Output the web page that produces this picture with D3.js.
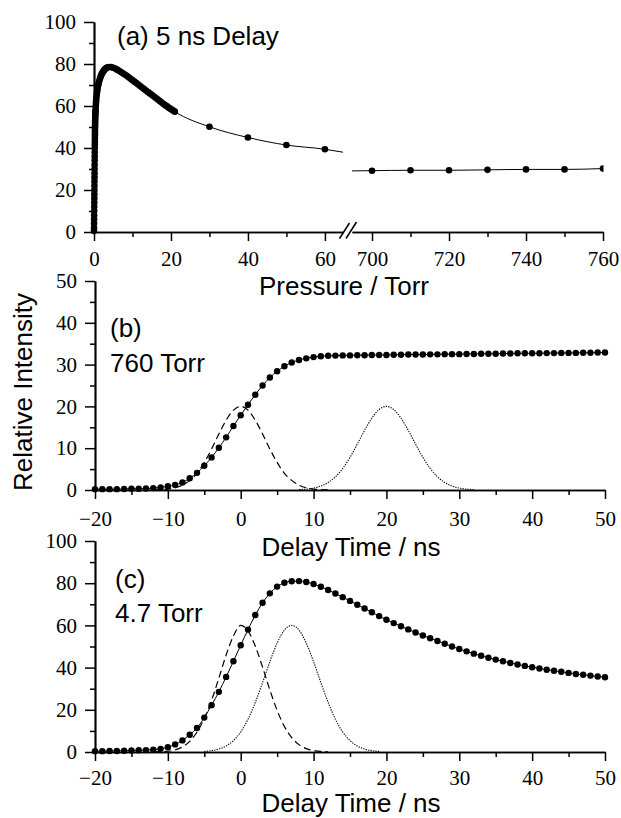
<!DOCTYPE html>
<html><head><meta charset="utf-8">
<script src="https://cdn.jsdelivr.net/npm/d3@7"></script>
<style>body{margin:0;background:#fff} svg{display:block}</style>
</head><body><svg id="c" width="621" height="818"></svg>
<script>
// ---------- DATA ----------
// (a) 5 ns delay, intensity vs pressure
const aPressLow = [0,0.01,0.02,0.03,0.04,0.05,0.06,0.07,0.08,0.09,0.1,0.11,0.12,0.13,0.14,0.15,0.16,0.17,0.18,0.19,0.2,0.21,0.22,0.23,0.24,0.25,0.26,0.27,0.28,0.29,0.3,0.315,0.33,0.345,0.36,0.38,0.4,0.45,0.5,0.55,0.6,0.7,0.8,0.9,1.0,1.1,1.2,1.35,1.5,1.65,1.8,1.95,2.1,2.3,2.5,2.75,3.0,3.25,3.5,4.0,4.5,5.0,5.5,6.0,6.5,7.0,7.5,8.0,8.5,9.0,9.5,10,10.5,11,11.5,12,12.5,13,13.5,14,14.5,15,15.5,16,16.5,17,17.5,18,18.5,19,19.5,20,20.5,21,30,40,50,60];
const aIntLow   = [0.5,2,4,6,8,10,12,14,16,18,20,22,24,26,28,30,32,34,36,38,40,41.5,43,44.5,46,47.3,48.5,49.8,51,52,53,54,55,55.8,56.5,57.3,58,59.5,61,62.3,63.5,65,66.5,67.8,69,70,70.8,71.8,72.8,73.6,74.4,75,75.6,76.2,76.8,77.3,77.8,78.1,78.4,78.6,78.5,78.2,77.8,77.3,76.8,76.2,75.6,75.0,74.4,73.7,73.0,72.3,71.6,70.9,70.2,69.5,68.8,68.1,67.4,66.7,66.0,65.3,64.6,63.9,63.2,62.5,61.8,61.1,60.4,59.8,59.1,58.5,57.9,57.3,50.1,45.0,41.4,39.4];
const aPressHigh = [700,710,720,730,740,750,760];
const aIntHigh   = [29.2,29.4,29.4,29.6,29.8,29.8,30.2];
const aLowEndP = [64.7],  aLowEndI = [38.0];
const aHighStartP = [694.8], aHighStartI = [29.1];

// (b) 760 Torr, intensity vs delay time
const delayTimes = d3.range(-20, 51);
const bInt = [0.2,0.2,0.2,0.2,0.25,0.3,0.3,0.35,0.45,0.6,
  0.9,1.2,1.8,2.8,4.1,5.8,7.8,10.1,12.6,15.3,
  17.9,20.4,22.8,25.0,26.9,28.4,29.6,30.5,31.1,31.5,
  31.8,32.0,32.1,32.15,32.2,32.2,32.25,32.25,32.3,32.3,
  32.3,32.35,32.35,32.4,32.4,32.4,32.45,32.45,32.5,32.5,
  32.5,32.55,32.55,32.6,32.6,32.6,32.65,32.65,32.7,32.7,
  32.7,32.7,32.75,32.75,32.8,32.8,32.8,32.85,32.85,32.9,32.9];
const bPulse1T = d3.range(-12, 13);
const bPulse1 = [0.03,0.09,0.23,0.54,1.16,2.3,4.0,6.6,9.8,13.4,16.7,19.1,20,19.1,16.7,13.4,9.8,6.6,4.0,2.3,1.16,0.54,0.23,0.09,0.03];
const bPulse2T = d3.range(8, 33);
const bPulse2 = [0.09,0.21,0.47,0.95,1.8,3.16,5.16,7.82,10.96,14.26,17.2,19.26,20,19.26,17.2,14.26,10.96,7.82,5.16,3.16,1.8,0.95,0.47,0.21,0.09];

// (c) 4.7 Torr
const cInt = [0.4,0.4,0.5,0.5,0.6,0.7,0.8,0.9,1.1,1.5,
  2.3,3.6,5.5,8.2,11.4,16.3,22.2,28.5,35.6,43.0,
  50.6,58.0,64.9,70.7,75.2,78.4,80.2,80.9,81.0,80.6,
  79.6,78.3,76.8,75.1,73.4,71.6,69.8,68.0,66.2,64.4,
  62.7,61.1,59.6,58.1,56.6,55.2,53.9,52.6,51.3,50.0,
  48.8,47.7,46.6,45.6,44.7,43.8,43.0,42.2,41.5,40.8,
  40.2,39.6,39.0,38.5,38.0,37.5,37.0,36.6,36.2,35.8,35.4];
const cPulse1T = d3.range(-12, 13);
const cPulse1 = [0.05,0.15,0.4,1.0,2.4,5.0,9.5,16.0,24.5,35.0,46.0,55.0,60,57.4,50.2,40.2,29.4,19.7,12.1,6.8,3.5,1.6,0.7,0.27,0.1];
const cPulse2T = d3.range(-5, 20);
const cPulse2 = [0.27,0.64,1.4,2.86,5.4,9.5,15.5,23.5,32.9,42.8,51.6,57.8,60,57.8,51.6,42.8,32.9,23.5,15.5,9.5,5.4,2.86,1.4,0.64,0.27];

// tick values
const yTicks100 = [0,20,40,60,80,100], yMinor100 = [10,30,50,70,90];
const yTicks50 = [0,10,20,30,40,50], yMinor50 = [5,15,25,35,45];
const aXTicksL = [0,20,40,60], aXMinorL = [10,30,50];
const aXTicksR = [700,720,740,760], aXMinorR = [710,730,750];
const tTicks = [-20,-10,0,10,20,30,40,50], tMinor = [-15,-5,5,15,25,35,45];

// ---------- DRAW ----------
const svg = d3.select("#c");
const SERIF = "'Liberation Serif','Times New Roman',serif";
const SANS = "'Liberation Sans',Arial,sans-serif";
const fmt = d => (d < 0 ? "\u2212" + Math.abs(d) : String(d));

function styleAxis(g) {
  g.selectAll("path.domain").attr("stroke", "#000").attr("stroke-width", 1.7);
  g.selectAll(".tick line").attr("stroke", "#000").attr("stroke-width", 1.5);
  g.selectAll("text").attr("font-family", SERIF).attr("font-size", 21).attr("fill", "#000");
}
function yAxis(y, x0, major, minor) {
  const g = svg.append("g").attr("transform", `translate(${x0},0)`);
  g.call(d3.axisLeft(y).tickValues(minor).tickSize(5).tickSizeOuter(0).tickFormat(""));
  const g2 = svg.append("g").attr("transform", `translate(${x0},0)`);
  g2.call(d3.axisLeft(y).tickValues(major).tickSize(10).tickPadding(8).tickSizeOuter(0).tickFormat(fmt));
  styleAxis(g); styleAxis(g2);
}
function xAxis(x, y0, major, minor, pad) {
  const g = svg.append("g").attr("transform", `translate(0,${y0})`);
  g.call(d3.axisBottom(x).tickValues(minor).tickSize(5).tickSizeOuter(0).tickFormat(""));
  const g2 = svg.append("g").attr("transform", `translate(0,${y0})`);
  g2.call(d3.axisBottom(x).tickValues(major).tickSize(9).tickPadding(pad).tickSizeOuter(0).tickFormat(fmt));
  styleAxis(g); styleAxis(g2);
}
function label(txt, x, y, size, anchor, rot) {
  const t = svg.append("text").attr("x", x).attr("y", y).attr("font-family", SANS)
    .attr("font-size", size).attr("fill", "#000").attr("text-anchor", anchor || "start").text(txt);
  if (rot) t.attr("transform", `rotate(${rot},${x},${y})`);
}
function dots(data, x, y, r, clip) {
  const g = svg.append("g");
  if (clip) g.attr("clip-path", `url(#${clip})`);
  g.selectAll("circle").data(data).join("circle")
    .attr("cx", d => x(d[0])).attr("cy", d => y(d[1])).attr("r", r).attr("fill", "#000");
}
function line(data, x, y, opts, clip) {
  const p = svg.append("path").datum(data)
    .attr("d", d3.line().x(d => x(d[0])).y(d => y(d[1])).curve(d3.curveMonotoneX))
    .attr("fill", "none").attr("stroke", "#000").attr("stroke-width", opts.w || 1);
  if (opts.dash) p.attr("stroke-dasharray", opts.dash);
  if (clip) p.attr("clip-path", `url(#${clip})`);
}
const zip = (a, b) => a.map((v, i) => [v, b[i]]);

// clip for (a) right segment
const defs = svg.append("defs");
defs.append("clipPath").attr("id", "clipAR").append("rect").attr("x", 352).attr("y", 0).attr("width", 251.5).attr("height", 300);

// ----- Panel (a) -----
const ayA = d3.scaleLinear().domain([0, 100]).range([232, 22]);
const axL = d3.scaleLinear().domain([0, 64.7]).range([94, 343]);
const axR = d3.scaleLinear().domain([694.8, 760]).range([352, 603]);
yAxis(ayA, 94, yTicks100, yMinor100);
xAxis(axL, 232, aXTicksL, aXMinorL, 10);
xAxis(axR, 232, aXTicksR, aXMinorR, 10);
// axis break marks
[[339.5, 238.5, 349.5, 223], [346, 238.5, 356.5, 222]].forEach(s =>
  svg.append("line").attr("x1", s[0]).attr("y1", s[1]).attr("x2", s[2]).attr("y2", s[3])
    .attr("stroke", "#000").attr("stroke-width", 1.5));
const aLow = zip(aPressLow, aIntLow);
line(aLow.concat(zip(aLowEndP, aLowEndI)), axL, ayA, {w: 1});
dots(aLow, axL, ayA, 3.3);
const aHigh = zip(aPressHigh, aIntHigh);
line(zip(aHighStartP, aHighStartI).concat(aHigh), axR, ayA, {w: 1}, "clipAR");
dots(aHigh, axR, ayA, 3.3, "clipAR");
label("(a) 5 ns Delay", 117, 45, 26);
label("Pressure / Torr", 344, 295, 26, "middle");

// ----- Panel (b) -----
const tx = d3.scaleLinear().domain([-20, 50]).range([95, 605]);
const byB = d3.scaleLinear().domain([0, 50]).range([490, 281]);
yAxis(byB, 95, yTicks50, yMinor50);
xAxis(tx, 490, tTicks, tMinor, 12);
line(zip(bPulse1T, bPulse1), tx, byB, {w: 1.2, dash: "7,4"});
line(zip(bPulse2T, bPulse2), tx, byB, {w: 1.1, dash: "1.3,1.2"});
const bData = zip(delayTimes, bInt);
line(bData, tx, byB, {w: 1});
dots(bData, tx, byB, 3.2);
label("(b)", 110, 337, 26);
label("760 Torr", 110, 372, 26);
label("Delay Time / ns", 351, 556, 26, "middle");

// ----- Panel (c) -----
const cyC = d3.scaleLinear().domain([0, 100]).range([752, 541]);
yAxis(cyC, 95, yTicks100, yMinor100);
xAxis(tx, 752, tTicks, tMinor, 9);
line(zip(cPulse1T, cPulse1), tx, cyC, {w: 1.2, dash: "7,4"});
line(zip(cPulse2T, cPulse2), tx, cyC, {w: 1.1, dash: "1.3,1.2"});
const cData = zip(delayTimes, cInt);
line(cData, tx, cyC, {w: 1});
dots(cData, tx, cyC, 3.2);
label("(c)", 115, 588, 26);
label("4.7 Torr", 115, 622, 26);
label("Delay Time / ns", 351, 812, 26, "middle");

// shared y title
label("Relative Intensity", 32, 392, 26, "middle", -90);
</script></body></html>
